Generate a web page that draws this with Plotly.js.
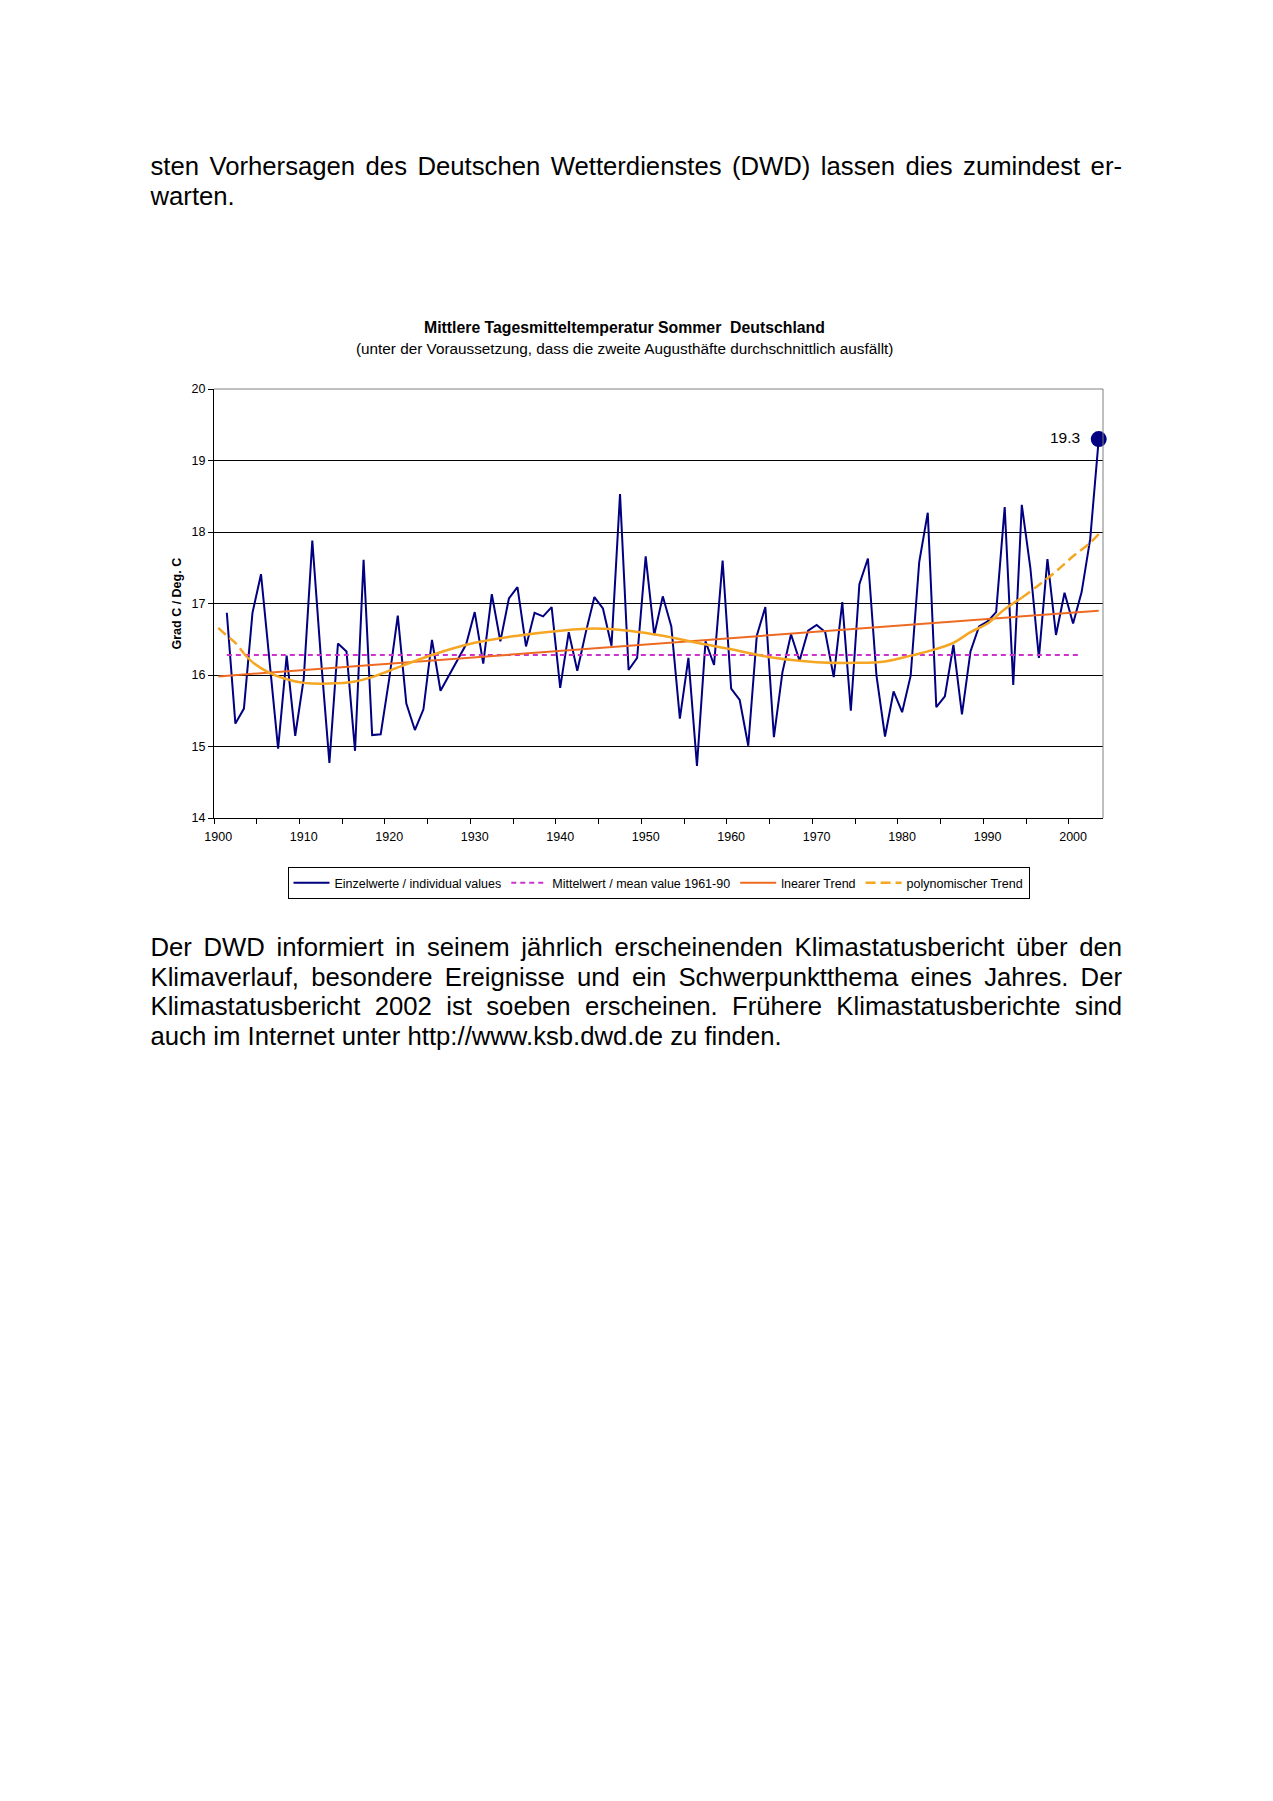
<!DOCTYPE html>
<html>
<head>
<meta charset="utf-8">
<script src="https://cdn.plot.ly/plotly-3.0.1.min.js"></script>
<style>
html,body{margin:0;padding:0;background:#fff;}
#page{position:relative;width:1273px;height:1801px;overflow:hidden;background:#fff;}
#chart{position:absolute;left:0;top:0;width:1273px;height:1801px;}
.ln{position:absolute;left:150.5px;width:971.5px;font-family:"Liberation Sans",Arial,sans-serif;font-size:25.7px;line-height:29.6px;color:#000;white-space:nowrap;z-index:5;}
.j{text-align:justify;text-align-last:justify;white-space:normal;}
</style>
</head>
<body>
<div id="page">
  <div id="chart"></div>
  <div class="ln j" style="top:151.5px">sten Vorhersagen des Deutschen Wetterdienstes (DWD) lassen dies zumindest er-</div>
  <div class="ln" style="top:181.6px">warten.</div>
  <div class="ln j" style="top:933px">Der DWD informiert in seinem jährlich erscheinenden Klimastatusbericht über den</div>
  <div class="ln j" style="top:962.6px">Klimaverlauf, besondere Ereignisse und ein Schwerpunktthema eines Jahres. Der</div>
  <div class="ln j" style="top:992.2px">Klimastatusbericht 2002 ist soeben erscheinen. Frühere Klimastatusberichte sind</div>
  <div class="ln" style="top:1021.8px">auch im Internet unter http://www.ksb.dwd.de zu finden.</div>
</div>
<script>
// ---- data ----
const years = [1901,1902,1903,1904,1905,1906,1907,1908,1909,1910,
  1911,1912,1913,1914,1915,1916,1917,1918,1919,1920,
  1921,1922,1923,1924,1925,1926,1927,1928,1929,1930,
  1931,1932,1933,1934,1935,1936,1937,1938,1939,1940,
  1941,1942,1943,1944,1945,1946,1947,1948,1949,1950,
  1951,1952,1953,1954,1955,1956,1957,1958,1959,1960,
  1961,1962,1963,1964,1965,1966,1967,1968,1969,1970,
  1971,1972,1973,1974,1975,1976,1977,1978,1979,1980,
  1981,1982,1983,1984,1985,1986,1987,1988,1989,1990,
  1991,1992,1993,1994,1995,1996,1997,1998,1999,2000,
  2001,2002,2003];
const temps = [16.87,15.32,15.53,16.87,17.41,16.2,14.97,16.27,15.15,15.95,
  17.88,16.25,14.77,16.44,16.33,14.94,17.61,15.16,15.17,15.95,
  16.83,15.6,15.23,15.52,16.49,15.78,15.99,16.22,16.43,16.88,
  16.16,17.13,16.47,17.07,17.23,16.4,16.87,16.82,16.95,15.82,
  16.6,16.06,16.6,17.09,16.93,16.41,18.53,16.07,16.24,17.66,
  16.56,17.1,16.68,15.39,16.24,14.73,16.47,16.14,17.6,15.81,
  15.65,15.01,16.55,16.95,15.13,16.04,16.57,16.2,16.62,16.7,
  16.6,15.97,17.02,15.5,17.27,17.63,15.99,15.14,15.77,15.48,
  15.99,17.58,18.27,15.55,15.7,16.42,15.45,16.33,16.68,16.75,
  16.88,18.35,15.86,18.38,17.5,16.24,17.62,16.56,17.15,16.72,
  17.16,17.9,19.3];
const meanYears = [1901, 2001];
const meanVals = [16.28, 16.28];
const linYears = [1900, 2003];
const linVals = [15.98, 16.9];
const polyYears = [1900,1901,1902,1903,1904,1906,1908,1910,1913,1916,1918,1920,1925,1930,1935,1940,1944,1948,1952,1956,1960,1965,1970,1975,1978,1980,1983,1986,1988,1990,1992,1994,1996,1998,2000,2002,2003];
const polyVals  = [16.66,16.55,16.45,16.3,16.18,16.03,15.94,15.89,15.88,15.91,15.97,16.06,16.28,16.45,16.55,16.62,16.65,16.62,16.55,16.45,16.36,16.24,16.18,16.17,16.19,16.24,16.33,16.45,16.6,16.72,16.92,17.08,17.26,17.45,17.66,17.85,17.97];
const xTickVals = [1900,1910,1920,1930,1940,1950,1960,1970,1980,1990,2000];
const yTickVals = [14,15,16,17,18,19,20];
const seriesNames = ['Einzelwerte / individual values','Mittelwert / mean value 1961-90','lnearer Trend','polynomischer Trend'];
const titleText = 'Mittlere Tagesmitteltemperatur Sommer\u00a0 Deutschland';
const subtitleText = '(unter der Voraussetzung, dass die zweite Augusthäfte durchschnittlich ausfällt)';
const yTitleText = 'Grad C / Deg. C';

// ---- styling ----
const FONT = '"Liberation Sans", Arial, sans-serif';
const NAVY = '#000080';
const MAG = '#CC33CC';
const LIN = '#EE6A22';
const POLY = '#F5A623';
const polyDashFrom = 1903, polyDashTo = 1994;

function seg(lo, hi){
  const xs=[], ys=[];
  polyYears.forEach((y,i)=>{ if(y>=lo && y<=hi){ xs.push(y); ys.push(polyVals[i]); } });
  return {x:xs, y:ys};
}
const pStart = seg(1900, polyDashFrom);
const pMid = seg(polyDashFrom, polyDashTo);
const pEnd = seg(polyDashTo, 2003);

const lastI = years.length - 1;

const traces = [
  {x:years, y:temps, type:'scatter', mode:'lines', name:seriesNames[0],
   line:{color:NAVY, width:2}},
  {x:meanYears, y:meanVals, type:'scatter', mode:'lines', name:seriesNames[1],
   line:{color:MAG, width:2, dash:'5px,4px'}},
  {x:linYears, y:linVals, type:'scatter', mode:'lines', name:seriesNames[2],
   line:{color:LIN, width:2}},
  {x:pEnd.x, y:pEnd.y, type:'scatter', mode:'lines', name:seriesNames[3],
   line:{color:POLY, width:2.5, dash:'10px,5px', shape:'spline'}},
  {x:pMid.x, y:pMid.y, type:'scatter', mode:'lines', showlegend:false,
   line:{color:POLY, width:2.5, shape:'spline'}},
  {x:pStart.x, y:pStart.y, type:'scatter', mode:'lines', showlegend:false,
   line:{color:POLY, width:2.5, dash:'10px,5px', shape:'spline'}},
  {x:[years[lastI]], y:[temps[lastI]], type:'scatter', mode:'markers', showlegend:false,
   cliponaxis:false, marker:{color:NAVY, size:16}}
];

const layout = {
  width:1273, height:1801,
  margin:{l:214, r:170, t:389, b:983, pad:0},
  paper_bgcolor:'#fff', plot_bgcolor:'#fff',
  font:{family:FONT, color:'#000', size:12.5},
  showlegend:true,
  legend:{orientation:'h', x:0.5, xanchor:'center', y:(818-867)/429, yanchor:'top',
    bgcolor:'#fff', bordercolor:'#000', borderwidth:1, itemwidth:36,
    font:{family:FONT, size:12.5, color:'#000'}, traceorder:'normal'},
  xaxis:{type:'linear', range:[1899.5, 2003.5], tickmode:'array', tickvals:xTickVals,
    ticks:'', showline:true, linecolor:'#000', linewidth:1, showgrid:false, zeroline:false,
    tickfont:{family:FONT, size:12.5, color:'#000'}, ticklabelstandoff:7,
    minor:{tickmode:'linear', tick0:1899.5, dtick:5, ticks:'outside', ticklen:5, tickcolor:'#000', tickwidth:1, showgrid:false},
    fixedrange:true},
  yaxis:{range:[14,20], tickmode:'array', tickvals:yTickVals, ticks:'outside', ticklen:5,
    tickcolor:'#000', tickwidth:1, showline:true, linecolor:'#000', linewidth:1,
    showgrid:true, gridcolor:'#000', gridwidth:1, zeroline:false,
    tickfont:{family:FONT, size:12.5, color:'#000'}, fixedrange:true},
  shapes:[
    {type:'line', xref:'paper', yref:'paper', x0:0, x1:1, y0:1, y1:1, line:{color:'#808080', width:1}, layer:'above'},
    {type:'line', xref:'paper', yref:'paper', x0:1, x1:1, y0:0, y1:1, line:{color:'#808080', width:1}, layer:'above'}
  ],
  annotations:[
    {text:'<b>'+titleText+'</b>', xref:'paper', yref:'paper', x:0.4618, y:(818-327)/429,
     xanchor:'center', yanchor:'middle', showarrow:false, font:{family:FONT, size:15.8, color:'#000'}},
    {text:subtitleText, xref:'paper', yref:'paper', x:0.4618, y:(818-348.5)/429,
     xanchor:'center', yanchor:'middle', showarrow:false, font:{family:FONT, size:15.3, color:'#000'}},
    {text:'<b>'+yTitleText+'</b>', xref:'paper', yref:'paper', x:(176-214)/889, y:0.5,
     xanchor:'center', yanchor:'middle', textangle:-90, showarrow:false, font:{family:FONT, size:12.5, color:'#000'}},
    {text:String(temps[lastI]), x:years[lastI], y:temps[lastI], xref:'x', yref:'y',
     xanchor:'right', yanchor:'middle', xshift:-17, yshift:2, showarrow:false, font:{family:FONT, size:15.5, color:'#000'}}
  ]
};

Plotly.newPlot('chart', traces, layout, {staticPlot:true, displayModeBar:false});
</script>
</body>
</html>
